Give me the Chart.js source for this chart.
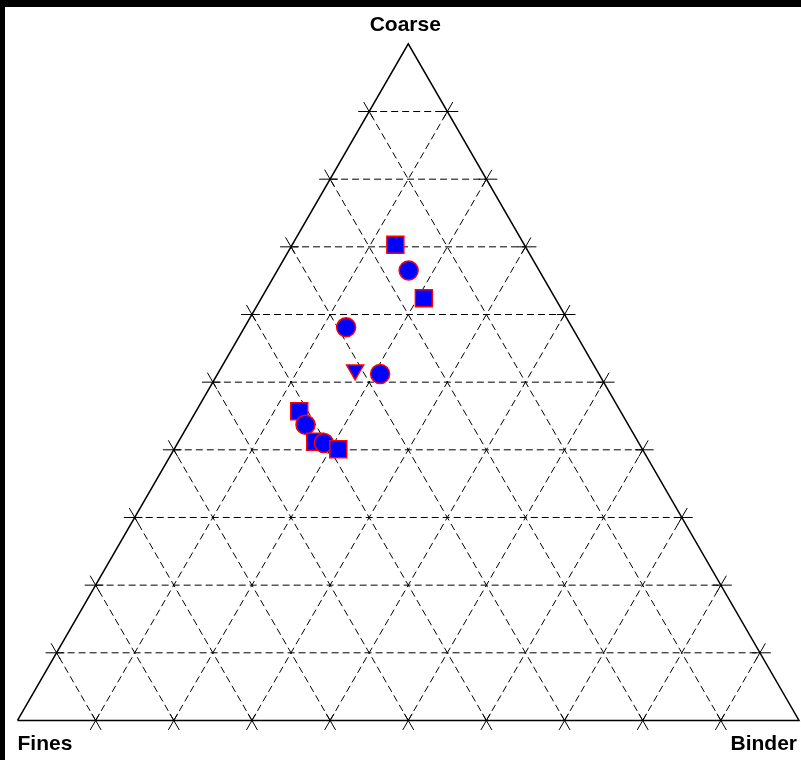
<!DOCTYPE html>
<html>
<head>
<meta charset="utf-8">
<title>Ternary diagram</title>
<script src="https://cdn.jsdelivr.net/npm/chart.js@4/dist/chart.umd.min.js"></script>
<style>
  html, body { margin: 0; padding: 0; background: #000; }
  #wrap { position: absolute; left: 5px; top: 7px; width: 796px; height: 753px; background: #fff; }
  canvas { display: block; background: #fff; }
</style>
</head>
<body>
<div id="wrap"><canvas id="myChart" width="796" height="753"></canvas></div>
<script>
// sample compositions, percent of each component
var coarse = [70.3, 66.5, 62.4, 58.1, 51.8, 51.2, 45.7, 43.7, 41.2, 41.0, 40.1];
var fines  = [16.5, 16.7, 16.8, 28.9, 30.9, 28.0, 41.1, 41.3, 41.3, 40.3, 38.9];
var binder = [13.2, 16.8, 20.8, 13.0, 17.3, 20.8, 13.2, 15.0, 17.5, 18.7, 21.0];
var markers = ['rect', 'circle', 'rect', 'circle', 'triangle', 'circle', 'rect', 'circle', 'rect', 'circle', 'rect'];

// grid levels along each axis
var levels = [10, 20, 30, 40, 50, 60, 70, 80, 90];
var cornerLabels = ['Coarse', 'Fines', 'Binder'];

var H = Math.sqrt(3) / 2;

// ternary (coarse, binder) -> cartesian, fines is the remainder
function tern(c, b) {
  return { x: b / 100 + c / 200, y: c / 100 * H };
}

var samplePts = coarse.map(function (c, i) { return tern(c, binder[i]); });

var gridSets = [];
var tickSets = [];

function addGrid(p, q) {
  gridSets.push({
    data: [p, q], showLine: true, borderColor: '#000', borderWidth: 1,
    borderDash: [7, 4], pointRadius: 0, clip: false, order: 3
  });
  // short solid ticks where the line meets the edges
  var dx = q.x - p.x, dy = q.y - p.y;
  var len = Math.sqrt(dx * dx + dy * dy);
  var ux = dx / len, uy = dy / len;
  var outer = 0.014, inner = 0.01;
  tickSets.push({
    data: [{ x: p.x - ux * outer, y: p.y - uy * outer }, { x: p.x + ux * inner, y: p.y + uy * inner }],
    showLine: true, borderColor: '#000', borderWidth: 1, pointRadius: 0, clip: false, order: 2
  });
  tickSets.push({
    data: [{ x: q.x + ux * outer, y: q.y + uy * outer }, { x: q.x - ux * inner, y: q.y - uy * inner }],
    showLine: true, borderColor: '#000', borderWidth: 1, pointRadius: 0, clip: false, order: 2
  });
}

levels.forEach(function (v) {
  addGrid(tern(v, 0), tern(v, 100 - v));        // constant coarse
  addGrid(tern(0, v), tern(100 - v, v));        // constant binder
  addGrid(tern(0, 100 - v), tern(100 - v, 0));  // constant fines
});

var outline = [tern(0, 0), tern(0, 100), tern(100, 0), tern(0, 0)];

var labelPlugin = {
  id: 'cornerLabels',
  afterDraw: function (chart) {
    var ctx = chart.ctx;
    var xs = chart.scales.x, ys = chart.scales.y;
    var top = tern(100, 0), left = tern(0, 0), right = tern(0, 100);
    ctx.save();
    ctx.fillStyle = '#000';
    ctx.font = 'bold 21px "Liberation Sans", Arial, sans-serif';
    ctx.textBaseline = 'middle';
    ctx.textAlign = 'center';
    ctx.fillText(cornerLabels[0], xs.getPixelForValue(top.x) - 3, ys.getPixelForValue(top.y) - 19);
    ctx.textAlign = 'left';
    ctx.fillText(cornerLabels[1], xs.getPixelForValue(left.x), ys.getPixelForValue(left.y) + 24);
    ctx.textAlign = 'right';
    ctx.fillText(cornerLabels[2], xs.getPixelForValue(right.x) - 2, ys.getPixelForValue(right.y) + 24);
    ctx.restore();
  }
};

var ctx = document.getElementById('myChart').getContext('2d');
var myChart = new Chart(ctx, {
  type: 'scatter',
  data: {
    datasets: [{
      label: 'Samples',
      data: samplePts,
      pointStyle: markers,
      pointRadius: markers.map(function (m) { return m === 'rect' ? 12 : (m === 'triangle' ? 9.8 : 9.5); }),
      pointRotation: markers.map(function (m) { return m === 'triangle' ? 180 : 0; }),
      backgroundColor: '#0000ff',
      borderColor: '#ff0000',
      borderWidth: 1.5,
      clip: false,
      order: 0
    }, {
      label: 'Outline',
      data: outline,
      showLine: true,
      borderColor: '#000',
      borderWidth: 1.5,
      pointRadius: 0,
      clip: false,
      order: 1
    }].concat(tickSets, gridSets)
  },
  options: {
    responsive: false,
    animation: false,
    devicePixelRatio: 1,
    layout: { padding: 0, autoPadding: false },
    scales: {
      x: { type: 'linear', display: false, min: -0.016, max: 1.00255 },
      y: { type: 'linear', display: false, min: -0.0506, max: 0.9132 }
    },
    plugins: {
      legend: { display: false },
      tooltip: { enabled: false }
    }
  },
  plugins: [labelPlugin]
});
</script>
</body>
</html>
